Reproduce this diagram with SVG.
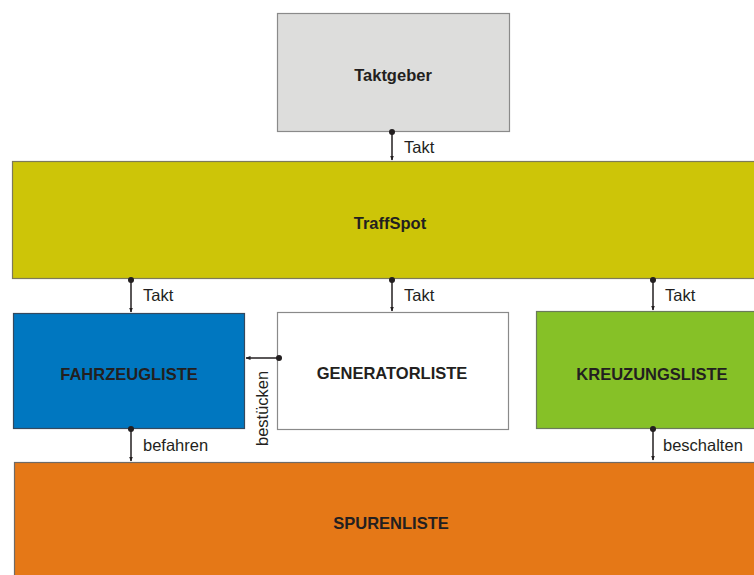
<svg xmlns="http://www.w3.org/2000/svg" width="754" height="575" viewBox="0 0 754 575">
<style>
.box{stroke-width:1.2}
.t{font-family:"Liberation Sans",Arial,sans-serif;font-size:16.5px;font-weight:bold;fill:#231f20;text-anchor:middle}
.l{font-family:"Liberation Sans",Arial,sans-serif;font-size:16.5px;fill:#231f20}
.c{stroke:#231f20;stroke-width:1.5;fill:none}
</style>
<defs>
<marker id="arr" viewBox="0 0 10 10" refX="9" refY="5" markerWidth="5" markerHeight="5" orient="auto" markerUnits="userSpaceOnUse" >
<path d="M0,1 L10,5 L0,9 z" fill="#231f20"/>
</marker>
<marker id="dot" viewBox="0 0 10 10" refX="5" refY="5" markerWidth="6" markerHeight="6" markerUnits="userSpaceOnUse">
<circle cx="5" cy="5" r="5" fill="#231f20"/>
</marker>
</defs>
<rect width="754" height="575" fill="#ffffff"/>
<g id="taktgeber"><rect class="box" x="277.5" y="13.5" width="232" height="118" fill="#dddddc" stroke="#8a8a8a"/><text class="t" x="393" y="81">Taktgeber</text></g>
<g id="traffspot"><rect class="box" x="12.5" y="161.5" width="760" height="117" fill="#cdc508" stroke="#7d7a5a"/><text class="t" x="390" y="229">TraffSpot</text></g>
<g id="fahrzeugliste"><rect class="box" x="13.5" y="313.5" width="231" height="115" fill="#0077c0" stroke="#34495e"/><text class="t" x="129" y="380">FAHRZEUGLISTE</text></g>
<g id="generatorliste"><rect class="box" x="277.5" y="312.5" width="231" height="117" fill="#ffffff" stroke="#8a8a8a"/><text class="t" x="392" y="379">GENERATORLISTE</text></g>
<g id="kreuzungsliste"><rect class="box" x="536.5" y="311.5" width="240" height="117" fill="#86c127" stroke="#6b7a5a"/><text class="t" x="652" y="380">KREUZUNGSLISTE</text></g>
<g id="spurenliste"><rect class="box" x="14.5" y="462.5" width="760" height="130" fill="#e57817" stroke="#6f6a66"/><text class="t" x="391" y="529">SPURENLISTE</text></g>
<g id="connectors">
<line class="c" x1="392" y1="132" x2="392" y2="160" marker-start="url(#dot)" marker-end="url(#arr)"/>
<text class="l" x="404" y="153">Takt</text>
<line class="c" x1="131" y1="280" x2="131" y2="312" marker-start="url(#dot)" marker-end="url(#arr)"/>
<text class="l" x="143" y="301">Takt</text>
<line class="c" x1="392" y1="280" x2="392" y2="311" marker-start="url(#dot)" marker-end="url(#arr)"/>
<text class="l" x="404" y="301">Takt</text>
<line class="c" x1="653" y1="280" x2="653" y2="310" marker-start="url(#dot)" marker-end="url(#arr)"/>
<text class="l" x="665" y="301">Takt</text>
<line class="c" x1="131" y1="429" x2="131" y2="461" marker-start="url(#dot)" marker-end="url(#arr)"/>
<text class="l" x="143" y="451">befahren</text>
<line class="c" x1="653" y1="429" x2="653" y2="460" marker-start="url(#dot)" marker-end="url(#arr)"/>
<text class="l" x="663" y="451">beschalten</text>
<line class="c" x1="279" y1="358" x2="246" y2="358" marker-start="url(#dot)" marker-end="url(#arr)"/>
<text class="l" transform="translate(268,446) rotate(-90)">bestücken</text>
</g>
</svg>
